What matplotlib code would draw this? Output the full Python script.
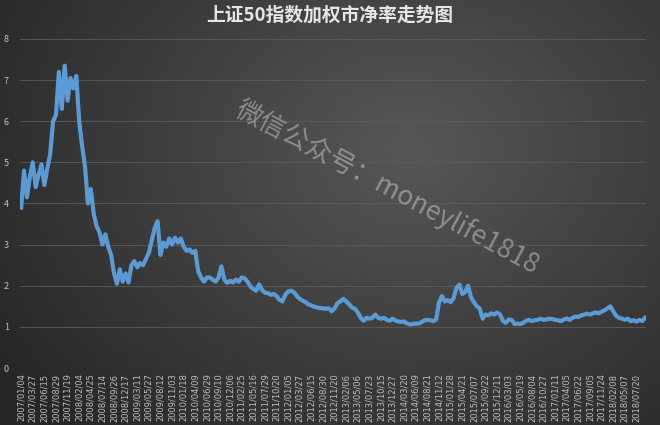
import numpy as np
import matplotlib
matplotlib.use("Agg")
import matplotlib.pyplot as plt

plt.rcParams['font.family'] = ['Noto Sans CJK SC', 'DejaVu Sans']

title = "上证50指数加权市净率走势图"
watermark = "微信公众号：moneylife1818"

# category labels shown on the x axis (one every 4 points of the series)
tick_dates = [
    "2007/01/04", "2007/03/27", "2007/06/15", "2007/08/29", "2007/11/19",
    "2008/02/04", "2008/04/25", "2008/07/14", "2008/09/26", "2008/12/17",
    "2009/03/11", "2009/05/27", "2009/08/12", "2009/11/03", "2010/01/18",
    "2010/04/09", "2010/06/29", "2010/09/10", "2010/12/06", "2011/02/25",
    "2011/05/16", "2011/07/29", "2011/10/20", "2012/01/05", "2012/03/27",
    "2012/06/15", "2012/08/30", "2012/11/20", "2013/02/06", "2013/05/06",
    "2013/07/23", "2013/10/15", "2013/12/27", "2014/03/20", "2014/06/09",
    "2014/08/21", "2014/11/12", "2015/01/28", "2015/04/21", "2015/07/07",
    "2015/09/22", "2015/12/11", "2016/03/03", "2016/05/19", "2016/08/04",
    "2016/10/27", "2017/01/11", "2017/04/05", "2017/06/22", "2017/09/05",
    "2017/11/24", "2018/02/08", "2018/05/07", "2018/07/20",
]
points_per_tick = 4

# P/B values
pb_values = [
    3.9, 4.8, 4.15, 4.65, 5.0, 4.4, 4.7, 4.95, 4.45, 4.85, 5.2, 6.0,
    6.15, 7.2, 6.3, 7.35, 6.5, 7.05, 6.8, 7.1, 6.0, 5.4, 4.9, 4.0,
    4.35, 3.75, 3.45, 3.3, 3.0, 3.25, 2.95, 2.75, 2.3, 2.05, 2.4, 2.1,
    2.3, 2.08, 2.5, 2.6, 2.45, 2.55, 2.5, 2.65, 2.8, 3.1, 3.4, 3.57,
    2.75, 3.05, 2.95, 3.15, 3.0, 3.17, 3.05, 3.15, 2.95, 2.85, 2.88, 2.8,
    2.85, 2.35, 2.2, 2.1, 2.2, 2.2, 2.15, 2.1, 2.2, 2.47, 2.15, 2.07,
    2.12, 2.08, 2.15, 2.1, 2.2, 2.18, 2.1, 1.98, 1.92, 1.88, 2.03, 1.9,
    1.83, 1.82, 1.78, 1.8, 1.75, 1.66, 1.62, 1.78, 1.86, 1.88, 1.84, 1.75,
    1.68, 1.64, 1.6, 1.55, 1.52, 1.49, 1.47, 1.46, 1.45, 1.44, 1.45, 1.38,
    1.45, 1.58, 1.62, 1.68, 1.62, 1.55, 1.47, 1.44, 1.35, 1.22, 1.15, 1.22,
    1.2, 1.22, 1.3, 1.22, 1.2, 1.22, 1.17, 1.15, 1.2, 1.15, 1.13, 1.12,
    1.13, 1.08, 1.06, 1.07, 1.08, 1.08, 1.12, 1.16, 1.17, 1.16, 1.14, 1.18,
    1.6, 1.75, 1.62, 1.65, 1.6, 1.7, 1.95, 2.03, 1.8, 1.85, 2.0, 1.72,
    1.6, 1.5, 1.45, 1.2, 1.3, 1.28, 1.33, 1.3, 1.35, 1.3, 1.15, 1.1,
    1.18, 1.17, 1.07, 1.08, 1.07, 1.1, 1.15, 1.17, 1.14, 1.16, 1.17, 1.2,
    1.17, 1.18, 1.2, 1.19, 1.17, 1.16, 1.14, 1.18, 1.2, 1.17, 1.22, 1.25,
    1.24, 1.28, 1.3, 1.32, 1.3, 1.33, 1.35, 1.33, 1.37, 1.4, 1.45, 1.5,
    1.38, 1.27, 1.22, 1.2, 1.17, 1.2, 1.14, 1.16, 1.13, 1.17, 1.14, 1.22,
]

fig = plt.figure(figsize=(6.6, 4.25), dpi=100)

# dark radial background
bg = fig.add_axes([0, 0, 1, 1], zorder=-10)
gy, gx = np.mgrid[0:1:200j, 0:1:300j]
dist = np.sqrt(((gx - 0.62) * 1.0) ** 2 + ((gy - 0.35) * 0.8) ** 2)
shade = np.clip(1 - dist / 0.75, 0, 1)
lo, hi = 0x26 / 255, 0x57 / 255
img = lo + (hi - lo) * shade
bg.imshow(np.dstack([img, img, img]), extent=[0, 1, 1, 0], aspect="auto")
bg.axis("off")

ax = fig.add_axes([20 / 660, 1 - 368 / 425, 626 / 660, (368 - 39) / 425])
ax.set_facecolor("none")

xs = np.arange(len(pb_values))
ax.plot(xs, pb_values, color="#5b9bd5", lw=3.0, solid_joinstyle="round", zorder=3)

ax.set_ylim(0, 8)
ax.set_xlim(-0.4, 215.3)
ax.set_yticks(range(0, 9))
ax.set_xticks(np.arange(len(tick_dates)) * points_per_tick)
ax.set_xticklabels(tick_dates, rotation=90, family="DejaVu Sans")

for lvl in range(1, 9):
    ax.axhline(lvl, color="#5c5c5c", lw=0.6, zorder=1)
ax.axhline(0, color="#6a6a6a", lw=0.8, zorder=1)

for s in ax.spines.values():
    s.set_visible(False)
ax.tick_params(axis="y", length=0, pad=8, labelsize=6.5, labelcolor="#bfbfbf")
ax.tick_params(axis="x", length=0, pad=4, labelsize=6, labelcolor="#bfbfbf")

fig.text(0.5, 0.965, title, ha="center", va="center", fontsize=13.5,
         fontweight="bold", color="#e6e6e6")

fig.text(387 / 660, 1 - 187 / 425, watermark, ha="center", va="center",
         rotation=-28, rotation_mode="anchor", fontsize=19, fontweight="light",
         color="#d0d0d0", alpha=0.5, zorder=5)

fig.savefig("out.png", dpi=100)
